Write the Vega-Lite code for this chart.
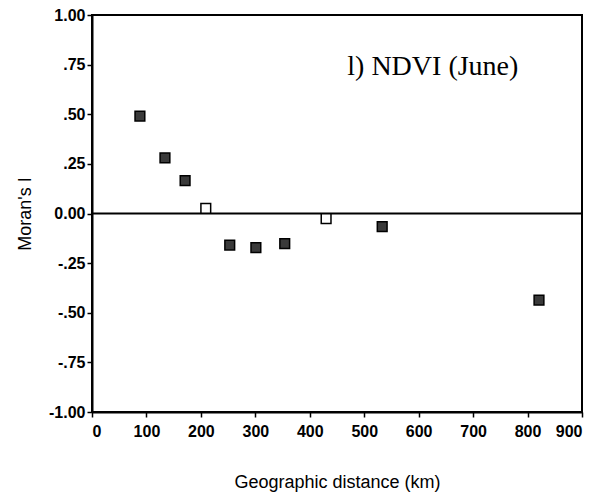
{
  "$schema": "https://vega.github.io/schema/vega-lite/v6.json",
  "width": 490,
  "height": 397,
  "autosize": "none",
  "padding": {"left": 92, "top": 15, "right": 23, "bottom": 88},
  "background": "white",
  "config": {
    "view": {"stroke": "black", "strokeWidth": 2},
    "axis": {
      "domainColor": "black", "domainWidth": 2, "tickColor": "black", "tickWidth": 1.5,
      "tickSize": 5, "grid": false,
      "labelFont": "Liberation Sans", "labelFontWeight": "bold", "labelFontSize": 16, "labelColor": "black",
      "titleFont": "Liberation Sans", "titleFontWeight": "normal", "titleFontSize": 18, "titleColor": "black"
    }
  },
  "datasets": {
    "pts": [
      {"distance": 88, "moran": 0.491, "sig": "yes"},
      {"distance": 134, "moran": 0.28, "sig": "yes"},
      {"distance": 171, "moran": 0.165, "sig": "yes"},
      {"distance": 209, "moran": 0.026, "sig": "no"},
      {"distance": 253, "moran": -0.159, "sig": "yes"},
      {"distance": 301, "moran": -0.172, "sig": "yes"},
      {"distance": 354, "moran": -0.152, "sig": "yes"},
      {"distance": 430, "moran": -0.026, "sig": "no"},
      {"distance": 533, "moran": -0.066, "sig": "yes"},
      {"distance": 821, "moran": -0.436, "sig": "yes"}
    ],
    "label": [{"distance": 626, "moran": 0.74, "text": "l) NDVI (June)"}],
    "zero": [{"moran": 0}]
  },
  "layer": [
    {
      "data": {"name": "zero"},
      "mark": {"type": "rule", "color": "black", "strokeWidth": 2},
      "encoding": {"y": {"field": "moran", "type": "quantitative", "scale": {"domain": [-1, 1]}}}
    },
    {
      "data": {"name": "pts"},
      "mark": {"type": "point", "shape": "square", "size": 95, "strokeWidth": 1.5, "stroke": "black", "filled": true, "opacity": 1},
      "encoding": {
        "x": {
          "field": "distance", "type": "quantitative",
          "scale": {"domain": [0, 900], "nice": false},
          "axis": {"values": [0, 100, 200, 300, 400, 500, 600, 700, 800, 900], "title": "Geographic distance (km)", "titlePadding": 34, "labelPadding": 6}
        },
        "y": {
          "field": "moran", "type": "quantitative",
          "scale": {"domain": [-1, 1], "nice": false},
          "axis": {
            "values": [-1, -0.75, -0.5, -0.25, 0, 0.25, 0.5, 0.75, 1],
            "labelExpr": "datum.value == 0 ? '0.00' : replace(replace(format(datum.value, '.2f'), '0.', '.'), '\u2212', '-')",
            "title": "Moran's I", "titlePadding": 14, "labelPadding": 2
          }
        },
        "fill": {
          "field": "sig", "type": "nominal",
          "scale": {"domain": ["yes", "no"], "range": ["#3a3a3a", "white"]},
          "legend": null
        }
      }
    },
    {
      "data": {"name": "label"},
      "mark": {"type": "text", "font": "Liberation Serif", "fontSize": 28, "color": "black", "align": "center", "baseline": "middle"},
      "encoding": {
        "x": {"field": "distance", "type": "quantitative"},
        "y": {"field": "moran", "type": "quantitative"},
        "text": {"field": "text"}
      }
    }
  ]
}
